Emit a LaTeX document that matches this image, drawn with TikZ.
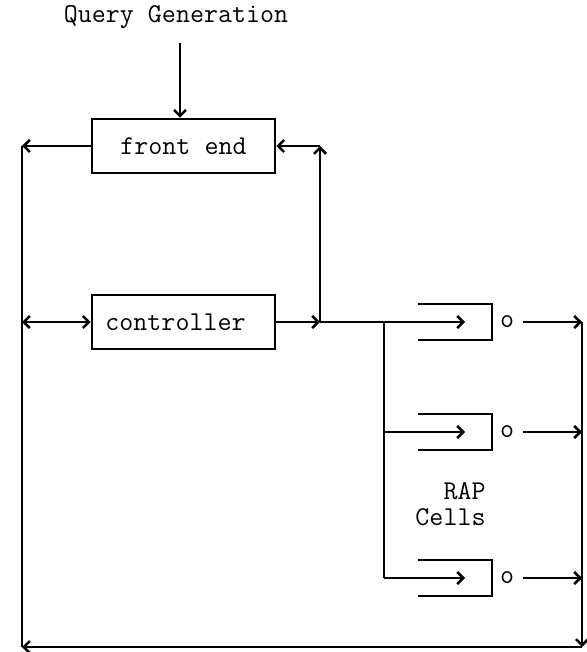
\documentclass[tikz,border=0pt]{standalone}
\usetikzlibrary{arrows.meta}
\begin{document}
\begin{tikzpicture}[x=1pt, y=-1pt, line width=2.6pt,
  >={Straight Barb[length=6pt,width=12pt]},
  lbl/.style={font=\ttfamily\fontsize{27.2}{26}\selectfont, inner sep=0pt},
  box/.style={draw, lbl, minimum width=183pt, minimum height=54pt}]
  \useasboundingbox (0,0) rectangle (586,652);

  \node[lbl, anchor=base] (query) at (176,23) {Query Generation};
  \node[box] (front) at (183.5,146) {front end};
  \node[box] (ctrl) at (183.5,322) {\hspace*{-16pt}controller};

  % left loop
  \coordinate (qtop) at (180,43);
  \coordinate (lefttop) at (22,146);
  \coordinate (leftmid) at (22,322);
  \coordinate (leftbot) at (22,647);
  \draw[->] (qtop) -- (qtop |- front.north);
  \draw[->] (front.west) -- (lefttop);
  \draw (lefttop) -- (leftbot);
  \draw[<->] (leftmid) -- (ctrl.west);

  % controller back to front end
  \coordinate (jr) at (320,322);
  \coordinate (jrtop) at (320,146);
  \draw[->] (ctrl.east) -- (jr);
  \draw[->] (jr) -- (jrtop);
  \draw[->] (jrtop) -- (front.east);

  % RAP cells
  \foreach \y/\n in {322/1,432/2,578/3} {
    \coordinate (in\n) at (465,\y);
    \coordinate (r\n) at (582,\y);
    \draw (418,\y-18) -- (492,\y-18) -- (492,\y+18) -- (418,\y+18);
    \node[lbl, inner xsep=8pt] (out\n) at (507,\y) {o};
    \draw[->] (out\n) -- (r\n);
  }
  \coordinate (bus) at (384,322);
  \draw[->] (jr) -- (in1);
  \draw (bus) -- (bus |- in3);
  \draw[->] (bus |- in2) -- (in2);
  \draw[->] (bus |- in3) -- (in3);
  \node[lbl, align=right] (rap) at (450.5,504) {RAP\\Cells};

  % return path
  \coordinate (rb) at (582,647);
  \draw[->] (r1) -- (rb);
  \draw[->] (rb) -- (leftbot);
\end{tikzpicture}
\end{document}
